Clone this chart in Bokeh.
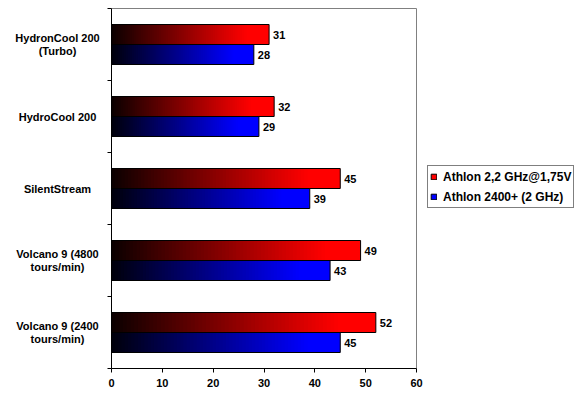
from bokeh.plotting import figure
from bokeh.models import FixedTicker, Legend, LegendItem, ColumnDataSource, Range1d
from bokeh.core.properties import value
from bokeh.embed import file_html
from bokeh.resources import INLINE

# ---- data (top to bottom) ----
categories = ["HydronCool 200\n(Turbo)", "HydroCool 200", "SilentStream",
              "Volcano 9 (4800\ntours/min)", "Volcano 9 (2400\ntours/min)"]
athlon_22 = [31, 32, 45, 49, 52]
athlon_2400 = [28, 29, 39, 43, 45]
series_names = ["Athlon 2,2 GHz@1,75V", "Athlon 2400+ (2 GHz)"]
x_ticks = [0, 10, 20, 30, 40, 50, 60]

FONT = "Liberation Sans"
W, H = 576, 396
n = len(categories)
x_max = x_ticks[-1]

# layout of the plotting area in pixels
PL, PR, PT, PB = 111, 416, 8, 368
sx = (PR - PL) / x_max          # px per x unit
sy = (PB - PT) / n              # px per category
x_lo = -PL / sx
x_hi = (W - PL) / sx
y_lo = -(H - PB) / sy
y_hi = n + PT / sy

centers = [n - 0.5 - i for i in range(n)]
BAR_H = 20 / sy
OFF = 10 / sy

p = figure(width=W, height=H, x_range=Range1d(x_lo, x_hi), y_range=Range1d(y_lo, y_hi),
           output_backend="svg", toolbar_location=None, min_border=0)
p.background_fill_color = "white"
p.border_fill_color = "white"
p.outline_line_color = None
p.grid.visible = False

# gray frame (top and right)
p.line(x=[0, x_max, x_max], y=[n, n, 0], line_color="#808080", line_width=1)


def grad_color(base, t):
    k = min(1.0, 0.04 + 1.12 * t)
    r, g, b = base
    return "#%02x%02x%02x" % (int(r * k), int(g * k), int(b * k))


N = 70
for vals, off, base in ((athlon_22, OFF, (255, 0, 0)), (athlon_2400, -OFF, (0, 0, 255))):
    lefts, rights, ys, cols = [], [], [], []
    for v, c in zip(vals, centers):
        for i in range(N):
            lefts.append(v * i / N)
            rights.append(v * min(N, i + 1.6) / N)
            ys.append(c + off)
            cols.append(grad_color(base, (i + 0.5) / N))
    src = ColumnDataSource(dict(left=lefts, right=rights, y=ys, color=cols))
    p.hbar(y="y", left="left", right="right", height=BAR_H, source=src,
           fill_color="color", line_color=None)
    osrc = ColumnDataSource(dict(y=[c + off for c in centers], right=vals,
                                 txt=[str(v) for v in vals]))
    p.hbar(y="y", left=0, right="right", height=BAR_H, source=osrc,
           fill_alpha=0, line_color="black", line_width=1)
    p.text(x="right", y="y", text="txt", source=osrc, x_offset=4,
           text_baseline="middle", text_align="left",
           text_font=value(FONT), text_font_style="bold", text_font_size="11px",
           text_color="black")

# category labels
lab_x = (57 - PL) / sx
p.text(x=[lab_x] * n, y=centers, text=categories, text_align="center",
       text_baseline="middle", text_font=value(FONT), text_font_style="bold",
       text_font_size="11px", text_color="black", text_line_height=1.15)

# axes
xa = p.xaxis[0]
xa.fixed_location = 0
xa.bounds = (0, x_max)
xa.ticker = FixedTicker(ticks=x_ticks)
xa.minor_tick_line_color = None
xa.major_tick_out = 4
xa.major_tick_in = 0
xa.major_label_standoff = 6
xa.axis_line_color = "black"
xa.major_label_text_font = FONT
xa.major_label_text_font_style = "bold"
xa.major_label_text_font_size = "11px"
xa.major_label_text_color = "black"

ya = p.yaxis[0]
ya.fixed_location = 0
ya.bounds = (0, n)
ya.ticker = FixedTicker(ticks=list(range(n + 1)))
ya.minor_tick_line_color = None
ya.major_tick_out = 4
ya.major_tick_in = 0
ya.axis_line_color = "black"
ya.major_label_text_color = None
ya.major_label_text_font_size = "1px"

# legend swatches (hidden in the plot, NaN position)
nan = float("nan")
r1 = p.hbar(y=[nan], left=[0], right=[0], height=0.1, fill_color="#ff0000", line_color="black")
r2 = p.hbar(y=[nan], left=[0], right=[0], height=0.1, fill_color="#0000ff", line_color="black")
legend = Legend(items=[LegendItem(label=series_names[0], renderers=[r1]),
                       LegendItem(label=series_names[1], renderers=[r2])],
                location=(427, H - 208), orientation="vertical")
legend.glyph_width = 7
legend.glyph_height = 7
legend.label_standoff = 6
legend.label_height = 17
legend.spacing = 3
legend.padding = 2
legend.margin = 0
legend.border_line_color = "black"
legend.border_line_width = 1
legend.background_fill_color = "white"
legend.label_text_font = FONT
legend.label_text_font_style = "bold"
legend.label_text_font_size = "12px"
legend.label_text_color = "black"
p.add_layout(legend, "center")

open("out.html", "w").write(file_html(p, INLINE))
